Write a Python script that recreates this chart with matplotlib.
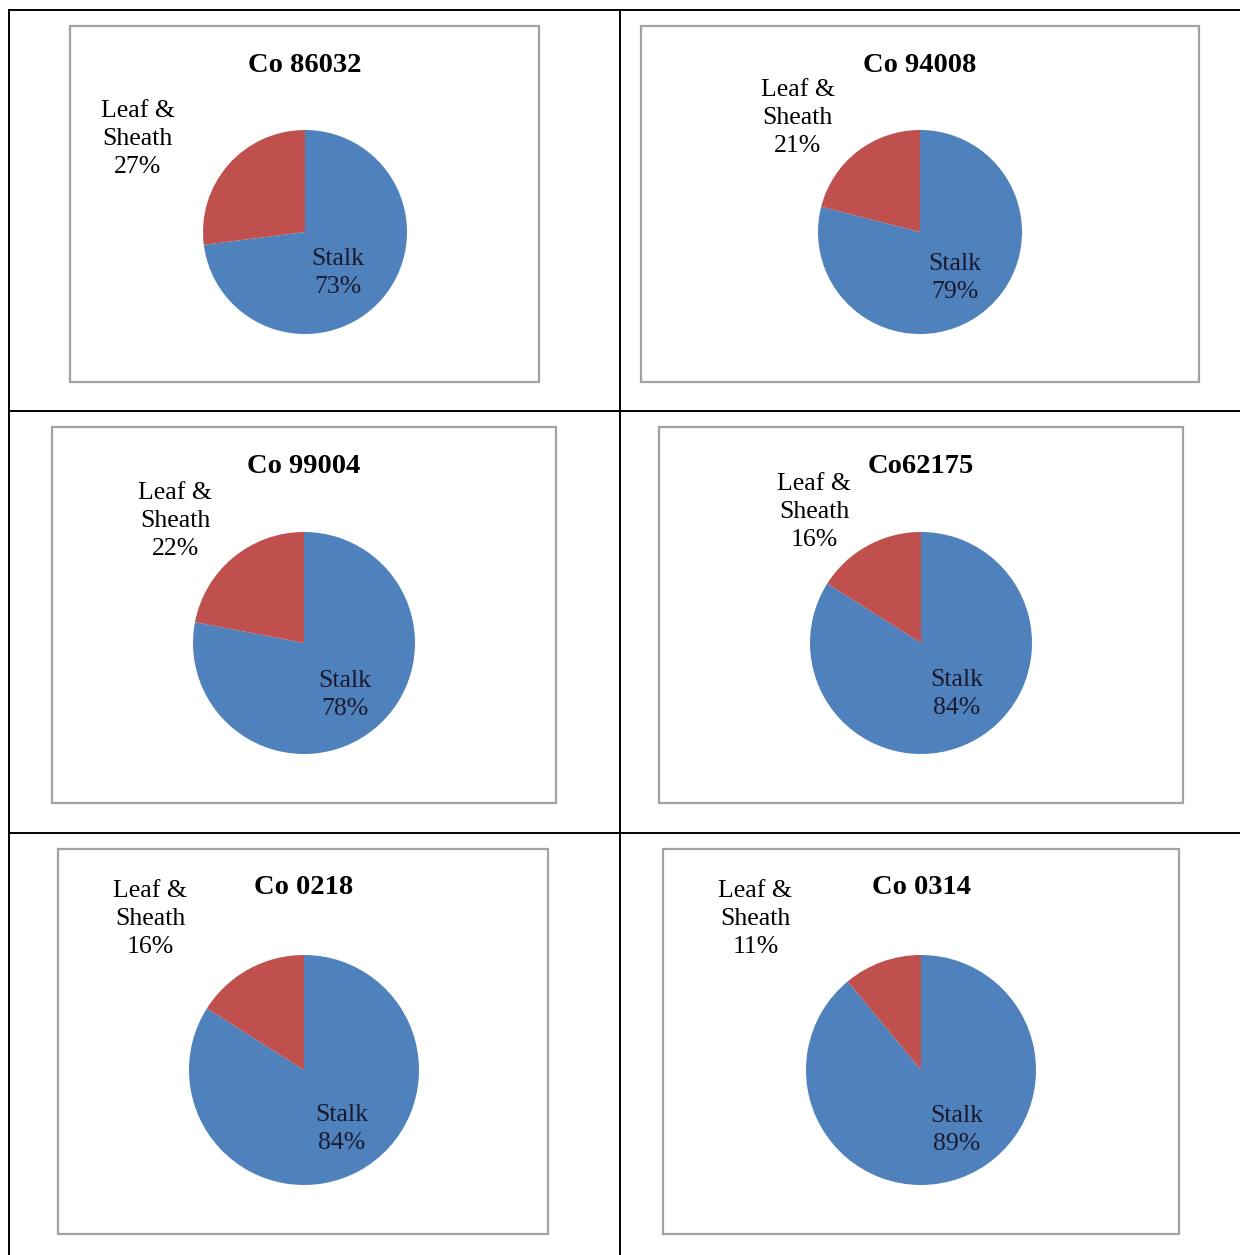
import matplotlib
matplotlib.use("Agg")
import matplotlib.pyplot as plt
from matplotlib.patches import Rectangle
from matplotlib.lines import Line2D

# Share of above-ground biomass, per variety
varieties = ["Co 86032", "Co 94008", "Co 99004", "Co62175", "Co 0218", "Co 0314"]
stalk_pct = [73, 79, 78, 84, 84, 89]
leaf_pct = [27, 21, 22, 16, 16, 11]

W, H = 1240, 1255
fig = plt.figure(figsize=(W / 100, H / 100), dpi=100)
plt.rcParams['font.family'] = ['Liberation Serif', 'DejaVu Serif']

def fx(x):
    return x / W

def fy(y):
    return 1 - y / H

# table rules
rule = dict(color="black", lw=1.4, transform=fig.transFigure)
for y in [10, 411, 833]:
    fig.add_artist(Line2D([fx(9), fx(1240)], [fy(y), fy(y)], **rule))
for x in [9, 620]:
    fig.add_artist(Line2D([fx(x), fx(x)], [fy(10), fy(1255)], **rule))

# chart frames (left, top, right, bottom) in pixels
frames = [(70, 26, 539, 382), (641, 26, 1199, 382),
          (52, 427, 556, 803), (659, 427, 1183, 803),
          (58, 849, 548, 1234), (663, 849, 1179, 1234)]
# pie centre and radius in pixels
pies = [(305, 232, 102), (920, 232, 102),
        (304, 643, 111), (921, 643, 111),
        (304, 1070, 115), (921, 1070, 115)]
# label positions in pie-radius units
leaf_pos = [(-1.64, 0.91), (-1.20, 1.12), (-1.16, 1.10),
            (-0.96, 1.18), (-1.34, 1.31), (-1.44, 1.31)]
stalk_pos = [(0.32, -0.40), (0.34, -0.45), (0.37, -0.47),
             (0.32, -0.46), (0.33, -0.51), (0.31, -0.52)]
title_y = [65, 65, 467, 467, 888, 888]

for i, name in enumerate(varieties):
    l, t, r, b = frames[i]
    fig.add_artist(Rectangle((fx(l), fy(b)), fx(r - l), (b - t) / H,
                             fill=False, ec="#a3a3a3", lw=1.6,
                             transform=fig.transFigure))
    cx, cy, rad = pies[i]
    ax = fig.add_axes([fx(cx - rad), fy(cy + rad), 2 * rad / W, 2 * rad / H])
    ax.pie([stalk_pct[i], leaf_pct[i]], colors=["#4f81bd", "#c0504d"],
           startangle=90, counterclock=False)
    ax.set_xlim(-1, 1)
    ax.set_ylim(-1, 1)
    ax.text(*leaf_pos[i], f"Leaf &\nSheath\n{leaf_pct[i]}%", ha="center",
            va="center", fontsize=18.5, linespacing=1.35, clip_on=False)
    ax.text(*stalk_pos[i], f"Stalk\n{stalk_pct[i]}%", ha="center",
            va="center", fontsize=18.5, linespacing=1.35, color="#1a1a2e",
            clip_on=False)
    fig.text(fx(cx), fy(title_y[i]), name, ha="center", va="center",
             fontsize=20.5, fontweight="bold")

fig.savefig("out.png", dpi=100)
